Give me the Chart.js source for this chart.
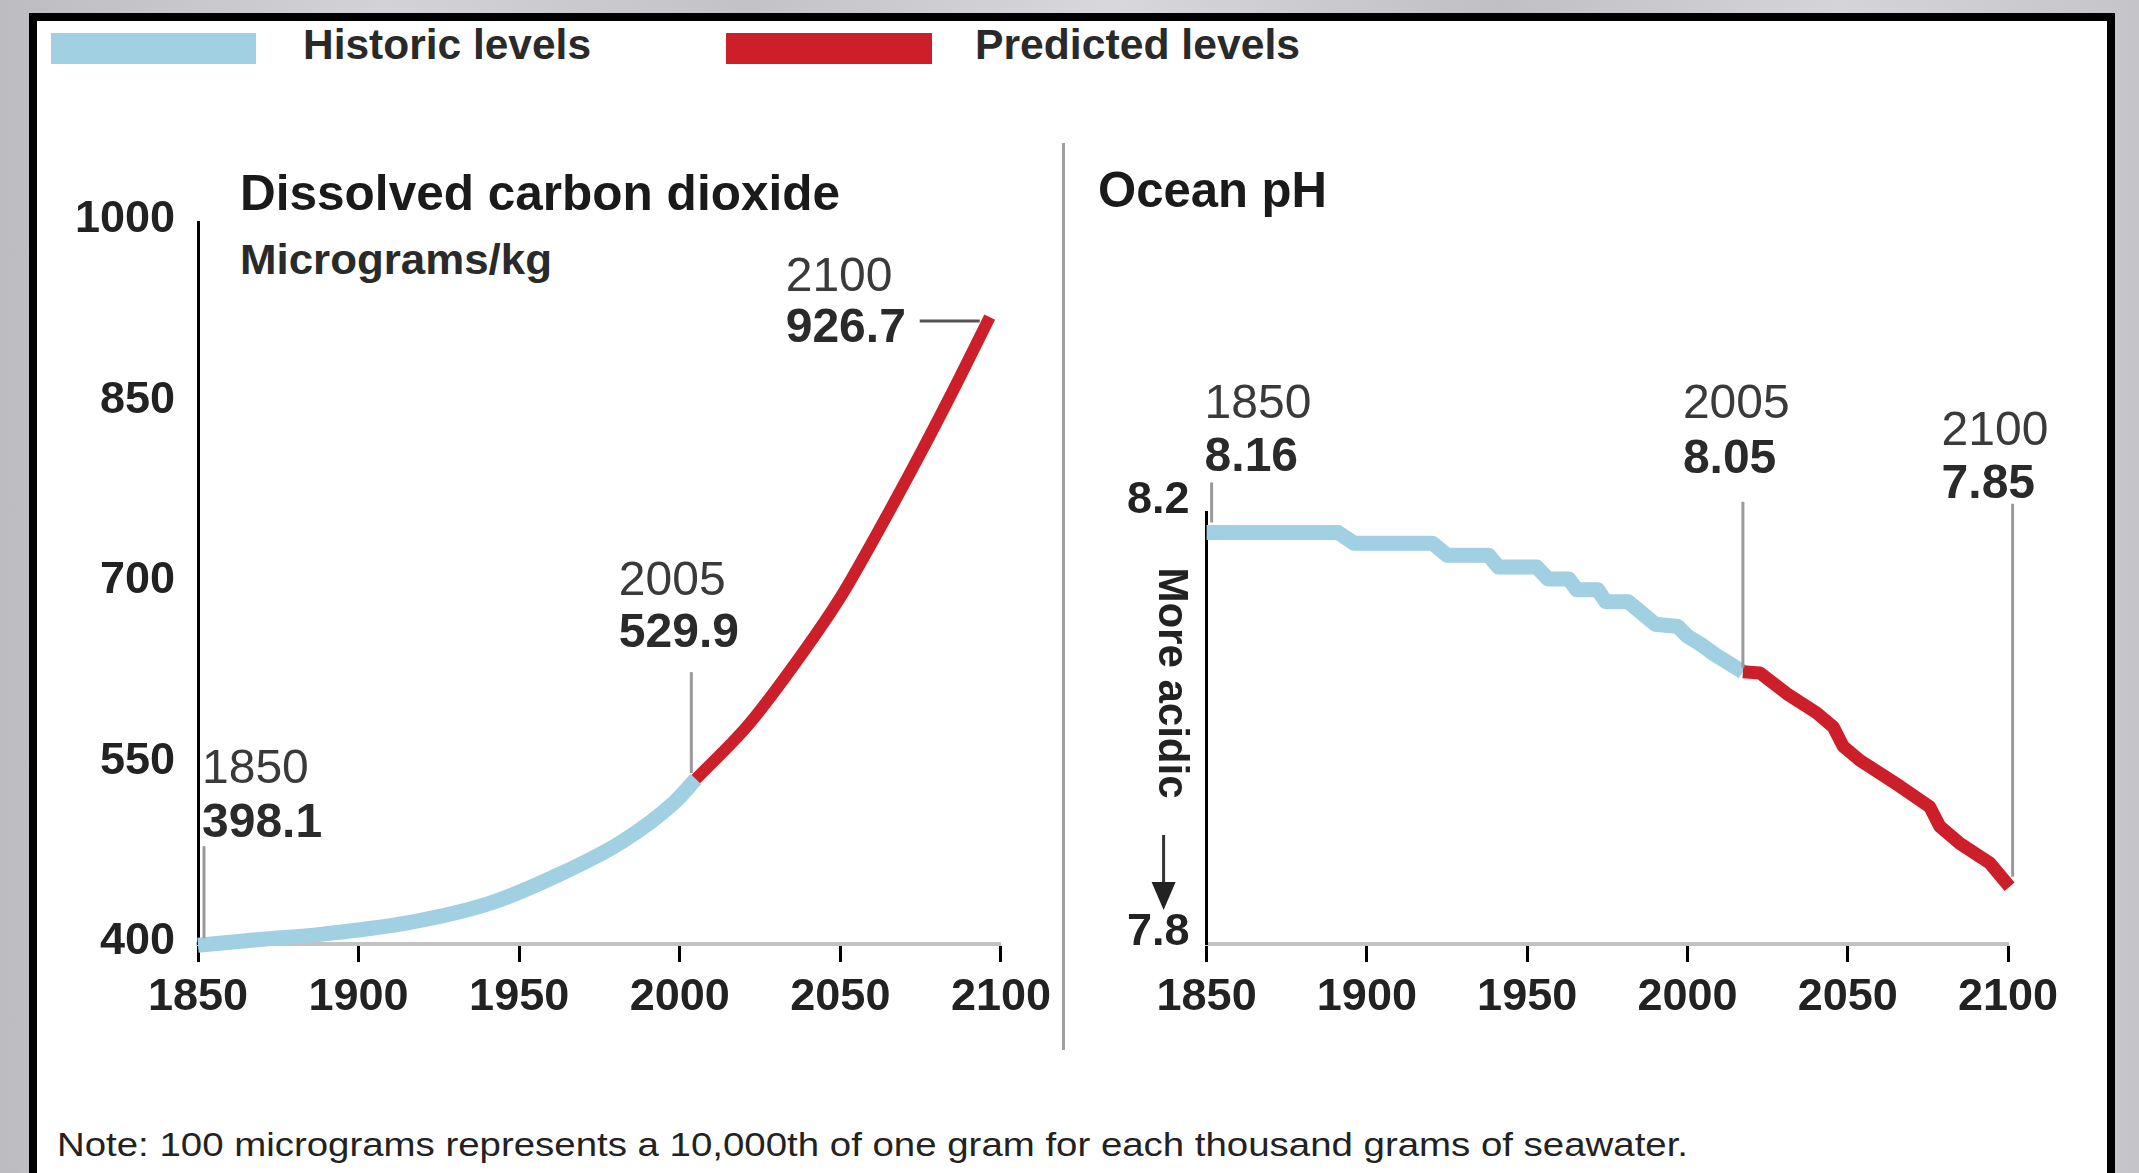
<!DOCTYPE html>
<html><head><meta charset="utf-8">
<script src="https://cdn.jsdelivr.net/npm/chart.js@4.4.1/dist/chart.umd.min.js"></script>
<style>
html,body{margin:0;padding:0;}
body{width:2139px;height:1173px;overflow:hidden;position:relative;font-family:"Liberation Sans",Arial,sans-serif;}
.abs{position:absolute;}
.txt{position:absolute;white-space:nowrap;line-height:1;transform-origin:0 0;color:#222;}
canvas{position:absolute;}
</style></head><body>
<div class="abs" style="left:0;top:0;width:2139px;height:1173px;background:linear-gradient(90deg,#bcbcc1 0%,#d3d3d7 18%,#c2c2c7 35%,#d8d8dc 52%,#bfbfc4 70%,#d5d5d9 86%,#c4c4c9 100%)"></div>
<div class="abs" style="left:29px;top:13px;width:2086px;height:1160px;background:#000"></div>
<div class="abs" style="left:37px;top:21px;width:2070px;height:1152px;background:#fff"></div>
<div class="abs" style="left:1062px;top:143px;width:3px;height:907px;background:#a0a0a0"></div>

<div class="abs" style="left:51px;top:33px;width:205px;height:31px;background:#a0d0e1"></div>
<div class="abs" style="left:726px;top:33px;width:206px;height:31px;background:#cd1f2a"></div>
<div class="txt" data-w="288" style="left:303px;top:22.6px;font-size:43px;font-weight:bold;color:#2a2a2a">Historic levels</div>
<div class="txt" data-w="325" style="left:975px;top:22.6px;font-size:43px;font-weight:bold;color:#2a2a2a">Predicted levels</div>

<div class="txt" data-w="600" style="left:240px;top:167.7px;font-size:50px;font-weight:bold;color:#1a1a1a">Dissolved carbon dioxide</div>
<div class="txt" data-w="312" style="left:240px;top:239.4px;font-size:42px;font-weight:bold;color:#2a2a2a">Micrograms/kg</div>
<div class="txt" data-w="229" style="left:1098px;top:164.7px;font-size:50px;font-weight:bold;color:#1a1a1a">Ocean pH</div>
<div class="txt" data-w="1631" style="left:57px;top:1128px;font-size:33px;color:#222">Note: 100 micrograms represents a 10,000th of one gram for each thousand grams of seawater.</div>

<canvas id="co2" width="1020" height="950" style="left:40px;top:100px"></canvas>
<canvas id="ph" width="1035" height="950" style="left:1070px;top:100px"></canvas>

<script>
// ---- data ----
const xTicks = [1850, 1900, 1950, 2000, 2050, 2100];
const co2Ticks = [400, 550, 700, 850, 1000];
const phTicks = [7.8, 8.2];

const co2HistYears  = [1850, 1870, 1888, 1916, 1941, 1961, 1982, 1998, 2005];
const co2HistValues = [399, 404, 408, 418, 434, 456, 485, 517, 537];
const co2PredYears  = [2005, 2021, 2034, 2050, 2062, 2075, 2087, 2096.5];
const co2PredValues = [537, 581, 626, 688, 744, 808, 870, 921];

const phHistYears  = [1850, 1891, 1896, 1920.5, 1925, 1938, 1941, 1953, 1956.5, 1963, 1965.5, 1972, 1974.5, 1981.5, 1990, 1997, 2000, 2004.4, 2008.6, 2017.3];
const phHistValues = [8.181, 8.181, 8.171, 8.171, 8.160, 8.160, 8.149, 8.149, 8.138, 8.138, 8.128, 8.128, 8.117, 8.117, 8.096, 8.094, 8.085, 8.077, 8.068, 8.052];
const phPredYears  = [2017.3, 2022.6, 2030.9, 2040.3, 2045.5, 2048.6, 2053.8, 2066.3, 2075.6, 2078.7, 2085, 2094.3, 2100.5];
const phPredValues = [8.052, 8.051, 8.032, 8.014, 8.001, 7.983, 7.970, 7.946, 7.927, 7.909, 7.893, 7.875, 7.853];

const co2Labels = [["1850", "398.1"], ["2005", "529.9"], ["2100", "926.7"]];
const phLabels  = [["1850", "8.16"], ["2005", "8.05"], ["2100", "7.85"]];

const BLUE = '#a0d0e1', RED = '#cd1f2a';
const FONT = '"Liberation Sans", Arial, sans-serif';

// scale HTML texts to measured widths
document.querySelectorAll('.txt[data-w]').forEach(el => {
  const w = el.getBoundingClientRect().width;
  el.style.transform = 'scaleX(' + (parseFloat(el.dataset.w) / w) + ')';
});

function pts(xs, ys) { return xs.map((x, i) => ({x: x, y: ys[i]})); }

function text(ctx, s, x, y, size, weight, color) {
  ctx.save();
  ctx.font = weight + ' ' + size + 'px ' + FONT;
  ctx.fillStyle = color; ctx.textAlign = 'left'; ctx.textBaseline = 'alphabetic';
  ctx.fillText(s, x, y);
  ctx.restore();
}
function line(ctx, x1, y1, x2, y2, color, w) {
  ctx.save(); ctx.strokeStyle = color; ctx.lineWidth = w; ctx.lineCap = 'butt';
  ctx.beginPath(); ctx.moveTo(x1, y1); ctx.lineTo(x2, y2); ctx.stroke(); ctx.restore();
}

function baseOptions(o) {
  return {
    responsive: false, animation: false, devicePixelRatio: 1,
    layout: {padding: o.padding},
    plugins: {legend: {display: false}, tooltip: {enabled: false}},
    elements: {point: {radius: 0}},
    scales: {
      x: {
        type: 'linear', min: 1850, max: 2100,
        afterBuildTicks: s => { s.ticks = xTicks.map(v => ({value: v})); },
        ticks: {callback: v => String(v), color: '#222', font: {family: FONT, size: 45, weight: 'bold'}, padding: 9, maxRotation: 0, autoSkip: false},
        grid: {drawOnChartArea: false, drawTicks: true, tickLength: 18, tickColor: '#000', tickWidth: 3},
        border: {display: true, color: '#c2c2c2', width: 4, dash: [4, 10]},
        afterFit: s => { s.height = 106; }
      },
      y: {
        type: 'linear', min: o.ymin, max: o.ymax,
        afterBuildTicks: s => { s.ticks = o.yTicks.map(v => ({value: v})); },
        ticks: {callback: o.yFmt, color: '#222', font: {family: FONT, size: 45, weight: 'bold'}, padding: o.yPad, labelOffset: o.yLabelOffset},
        grid: {drawOnChartArea: false, drawTicks: false},
        border: {display: true, color: '#000', width: 3},
        afterFit: s => { s.width = o.yWidth; }
      }
    }
  };
}

function ds(xs, ys, color, width, order, mode) {
  return {data: pts(xs, ys), borderColor: color, borderWidth: width, order: order, clip: false,
    pointRadius: 0, borderJoinStyle: 'round', cubicInterpolationMode: mode, tension: 0};
}

// ---- CO2 chart ----
const co2Annot = {
  id: 'co2Annot',
  afterDatasetsDraw(chart) {
    const ctx = chart.ctx, xs = chart.scales.x, ys = chart.scales.y;
    const P = (x, y) => [xs.getPixelForValue(x), ys.getPixelForValue(y)];
    let [px, py] = P(co2HistYears[0], co2HistValues[0]);
    text(ctx, co2Labels[0][0], px + 4, py - 162, 48, 'normal', '#3a3a3a');
    text(ctx, co2Labels[0][1], px + 4, py - 108, 48, 'bold', '#2a2a2a');
    line(ctx, px + 6, py - 99, px + 6, py - 7, '#9a9a9a', 3);
    const j = co2HistYears.length - 1;
    [px, py] = P(co2HistYears[j], co2HistValues[j]);
    text(ctx, co2Labels[1][0], px - 77, py - 184, 48, 'normal', '#3a3a3a');
    text(ctx, co2Labels[1][1], px - 77, py - 132, 48, 'bold', '#2a2a2a');
    line(ctx, px - 4.5, py - 107, px - 4.5, py - 6, '#9a9a9a', 3);
    const k = co2PredYears.length - 1;
    [px, py] = P(co2PredYears[k], co2PredValues[k]);
    text(ctx, co2Labels[2][0], px - 204, py - 26, 48, 'normal', '#3a3a3a');
    text(ctx, co2Labels[2][1], px - 204, py + 25, 48, 'bold', '#2a2a2a');
    line(ctx, px - 70, py + 4, px - 10, py + 4, '#555', 3);
  }
};

new Chart(document.getElementById('co2'), {
  type: 'line',
  data: {datasets: [
    ds(co2PredYears, co2PredValues, RED, 12, 1, 'monotone'),
    ds(co2HistYears, co2HistValues, BLUE, 15, 2, 'monotone')
  ]},
  options: baseOptions({padding: {top: 122, right: 58, left: 0, bottom: 0}, ymin: 400, ymax: 1000,
    yTicks: co2Ticks, yFmt: v => String(v), yPad: 23, yLabelOffset: -2, yWidth: 158}),
  plugins: [co2Annot]
});

// ---- pH chart ----
const phAnnot = {
  id: 'phAnnot',
  afterDatasetsDraw(chart) {
    const ctx = chart.ctx, xs = chart.scales.x, ys = chart.scales.y, ca = chart.chartArea;
    const P = (x, y) => [xs.getPixelForValue(x), ys.getPixelForValue(y)];
    let [px, py] = P(phHistYears[0], phHistValues[0]);
    text(ctx, phLabels[0][0], px - 2, py - 115, 48, 'normal', '#3a3a3a');
    text(ctx, phLabels[0][1], px - 2, py - 62, 48, 'bold', '#2a2a2a');
    line(ctx, px + 5, py - 50, px + 5, py - 10, '#9a9a9a', 3);
    const j = phHistYears.length - 1;
    [px, py] = P(phHistYears[j], phHistValues[j]);
    text(ctx, phLabels[1][0], px - 60, py - 254, 48, 'normal', '#3a3a3a');
    text(ctx, phLabels[1][1], px - 60, py - 199, 48, 'bold', '#2a2a2a');
    line(ctx, px, py - 170, px, py - 4, '#9a9a9a', 3);
    const k = phPredYears.length - 1;
    [px, py] = P(phPredYears[k], phPredValues[k]);
    text(ctx, phLabels[2][0], px - 68, py - 442, 48, 'normal', '#3a3a3a');
    text(ctx, phLabels[2][1], px - 68, py - 389, 48, 'bold', '#2a2a2a');
    line(ctx, px + 3, py - 383, px + 3, py - 10, '#9a9a9a', 3);
    // "More acidic" with arrow
    ctx.save();
    ctx.translate(ca.left - 36, ca.top + 171);
    ctx.rotate(Math.PI / 2);
    ctx.font = 'bold 42px ' + FONT;
    ctx.fillStyle = '#222'; ctx.textAlign = 'center'; ctx.textBaseline = 'middle';
    ctx.fillText('More acidic', 0, 0);
    ctx.restore();
    const ax = ca.left - 43;
    line(ctx, ax, ca.bottom - 109, ax, ca.bottom - 60, '#333', 3);
    ctx.save(); ctx.fillStyle = '#222'; ctx.beginPath();
    ctx.moveTo(ax - 12, ca.bottom - 62); ctx.lineTo(ax + 12, ca.bottom - 62); ctx.lineTo(ax, ca.bottom - 34);
    ctx.closePath(); ctx.fill(); ctx.restore();
  }
};

new Chart(document.getElementById('ph'), {
  type: 'line',
  data: {datasets: [
    ds(phPredYears, phPredValues, RED, 13, 1, 'default'),
    ds(phHistYears, phHistValues, BLUE, 15, 2, 'default')
  ]},
  options: baseOptions({padding: {top: 412, right: 97, left: 0, bottom: 0}, ymin: 7.8, ymax: 8.2,
    yTicks: phTicks, yFmt: v => v.toFixed(1), yPad: 17, yLabelOffset: -11, yWidth: 136.6}),
  plugins: [phAnnot]
});
</script>
</body></html>
